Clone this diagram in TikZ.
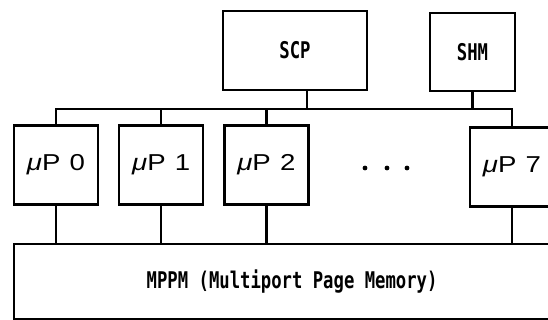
\documentclass[tikz,border=0pt]{standalone}
\usepackage{fontspec}
\setmainfont{Liberation Sans}
\newfontfamily\boxfont[FakeStretch=0.75]{DejaVu Sans Mono Bold}
\newfontfamily\cpufont[FakeStretch=1.2]{Liberation Sans}
\usetikzlibrary{positioning}
\newcommand\cpulabel[1]{{\itshape μ}P\hspace{0.4em}#1}

\begin{document}
\begin{tikzpicture}[x=1pt, y=-1pt, node distance=19pt,
  every node/.style={font=\boxfont\fontsize{23}{23}\selectfont},
  blk/.style={draw, line width=2.2pt, inner sep=0pt},
  cpu/.style={blk, minimum width=84pt, minimum height=79pt, font=\cpufont\fontsize{23}{23}\selectfont},
  wire/.style={line width=2.2pt}]
\useasboundingbox (0,0) rectangle (548,320);
\clip (0,0) rectangle (548,320);

\node[blk, minimum width=144pt, minimum height=79pt] (scp) at (295,50.5) {SCP};
\node[blk, minimum width=85pt, minimum height=78pt] (shm) at (472.5,52) {SHM};

\node[cpu] (p0) at (56,165) {\cpulabel{0}};
\node[cpu, right=of p0] (p1) {\cpulabel{1}};
\node[cpu, right=of p1] (p2) {\cpulabel{2}};
\node[cpu] (p7) at (512,167) {\cpulabel{7}};
\foreach \x in {365,387,407}
  \fill (\x,168) circle (2.4pt);

\node[blk, minimum width=556pt, minimum height=75pt, anchor=north west] (mppm) at (13,243) {MPPM (Multiport Page Memory)};

% shared bus
\coordinate (bus) at (0,109);
\draw[wire] (p0.north) -- (p0.north |- bus) -- (p7.north |- bus) -- (p7.north);
\draw[wire] (p1.north) -- (p1.north |- bus);
\draw[wire] (p2.north) -- (p2.north |- bus);
\draw[wire] ([xshift=12pt]scp.south) -- ([xshift=12pt]scp.south |- bus);
\draw[wire] (shm.south) -- (shm.south |- bus);

% ports into the page memory
\foreach \p in {p0,p1,p2,p7}
  \draw[wire] (\p.south) -- (\p.south |- mppm.north);
\end{tikzpicture}
\end{document}
